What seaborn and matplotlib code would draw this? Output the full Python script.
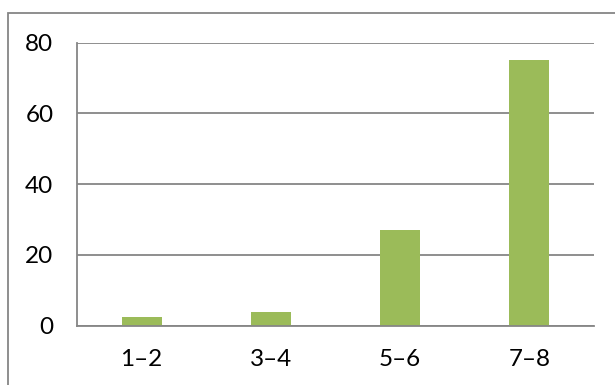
import matplotlib
matplotlib.use("Agg")
import matplotlib.pyplot as plt
import seaborn as sns
import pandas as pd
from matplotlib.patches import Rectangle

# Data
categories = ["1–2", "3–4", "5–6", "7–8"]
values = [2.4, 4.0, 27.0, 75.1]
y_ticks = [0, 20, 40, 60, 80]

df = pd.DataFrame({"group": categories, "value": values})

sns.set_theme(style="white")
plt.rcParams["font.family"] = ["Lato", "DejaVu Sans"]

fig = plt.figure(figsize=(6.15, 3.85), dpi=100)
ax = fig.add_axes([0.1252, 0.154, 0.8407, 0.735])

sns.barplot(data=df, x="group", y="value", color="#9BBB59", width=0.31,
            saturation=1, edgecolor="none", ax=ax, zorder=3)

ax.set_ylim(0, 80)
ax.set_yticks(y_ticks)
ax.set_xlim(-0.5, len(categories) - 0.5)
ax.yaxis.grid(True, color="#868686", linewidth=1.3, zorder=0)
ax.set_axisbelow(True)

for side in ["top", "right"]:
    ax.spines[side].set_visible(False)
for side in ["left", "bottom"]:
    ax.spines[side].set_color("#868686")
    ax.spines[side].set_linewidth(1.3)
    ax.spines[side].set_zorder(4)

ax.tick_params(axis="both", length=0, labelsize=17.5, colors="black")
ax.tick_params(axis="y", pad=17)
ax.tick_params(axis="x", pad=17)
ax.set_xlabel("")
ax.set_ylabel("")

# Outer chart frame
fig.patches.append(Rectangle((8 / 615, -0.1), 1.2, 1 - 13.5 / 385 + 0.1,
                             transform=fig.transFigure, fill=False,
                             edgecolor="#868686", linewidth=1.3))

fig.savefig("out.png", dpi=100)
